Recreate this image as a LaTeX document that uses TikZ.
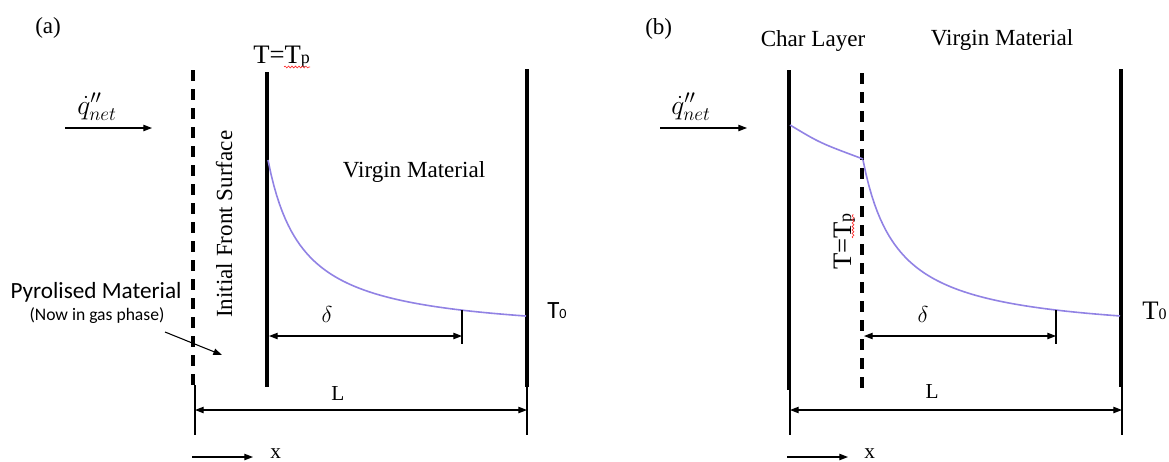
\documentclass[tikz,border=0pt]{standalone}
\usepackage{fontspec}
\setmainfont{Liberation Serif}
\newfontfamily\calib{Carlito}
\usetikzlibrary{arrows.meta,decorations.pathmorphing}
\definecolor{curvec}{RGB}{145,130,228}
\newcommand{\fs}[1]{\fontsize{#1}{#1}\selectfont}
\begin{document}
\begin{tikzpicture}[x=0.75pt,y=-0.75pt,
  >={Triangle[length=6.5pt,width=4.8pt]},
  wall/.style={line width=3.4pt},
  dashwall/.style={line width=3pt,dash pattern=on 8.25pt off 6pt},
  dimline/.style={line width=0.8pt},
  tcurve/.style={curvec,line width=1.2pt},
  lbl/.style={inner sep=0pt,font=\fs{17.3}},
  squig/.style={red!85,line width=0.45pt,decorate,decoration={snake,amplitude=0.7pt,segment length=2.6pt}}]
\useasboundingbox (0,0) rectangle (1169,461);

% ---------------- (a) ----------------
\node[lbl,anchor=base west] (labA) at (35,33) {(a)};
\coordinate (dA1) at (193,70); \coordinate (dA2) at (193,392);
\coordinate (pA1) at (267,72); \coordinate (pA2) at (267,387);
\coordinate (rA1) at (527,69); \coordinate (rA2) at (527,387);
\draw[dashwall] (dA1) -- (dA2);
\draw[wall] (pA1) -- (pA2);
\draw[wall] (rA1) -- (rA2);
\draw[tcurve] plot[domain=268:526,samples=90] (\x,{337-6141/(\x-233.3)});

\node[lbl,anchor=base west] (tpA) at (253,63) {\fs{20}T=T\fs{13.5}p};
\coordinate (sqA1) at (284,67); \coordinate (sqA2) at (310,67);
\draw[squig] (sqA1) -- (sqA2);

\node[lbl,anchor=base west,rotate=90] (ifs) at (232,318) {Initial Front Surface};
\node[lbl,anchor=base] (vmA) at (414,177) {Virgin Material};

\node[lbl,anchor=base west] (qA) at (77,114) {\fs{22}$\dot{q}''_{net}$};
\coordinate (qA1) at (65,128); \coordinate (qA2) at (152,128);
\draw[dimline,->] (qA1) -- (qA2);

\node[inner sep=0pt,anchor=base,font=\calib\fs{17.4}] (pyr) at (96,298) {Pyrolised Material};
\node[inner sep=0pt,anchor=base,font=\calib\fs{13.2}] (gas) at (97,320) {(Now in gas phase)};
\coordinate (pt1) at (165,332); \coordinate (pt2) at (222,355);
\draw[dimline,->] (pt1) -- (pt2);

\coordinate (dlA1) at (269,336); \coordinate (dlA2) at (462,336);
\coordinate (tkA1) at (462,310); \coordinate (tkA2) at (462,344);
\draw[dimline,<->] (dlA1) -- (dlA2);
\draw[dimline] (tkA1) -- (tkA2);
\node[lbl,anchor=base] (delA) at (327,322) {\fs{18}$\delta$};

\node[inner sep=0pt,anchor=base west] (t0A) at (547,318) {\calib\fs{18.6}T\fs{10.6}0};

\coordinate (eA1) at (195,385); \coordinate (eA2) at (195,435);
\coordinate (eA3) at (527,387); \coordinate (eA4) at (527,435);
\draw[dimline] (eA1) -- (eA2);
\draw[dimline] (eA3) -- (eA4);
\coordinate (LA1) at (195,410); \coordinate (LA2) at (527,410);
\draw[dimline,<->] (LA1) -- (LA2);
\node[lbl,anchor=base] (LlabA) at (338,400) {\fs{16}L};

\coordinate (xA1) at (192,457); \coordinate (xA2) at (253,457);
\draw[dimline,->] (xA1) -- (xA2);
\node[lbl,anchor=base west] (xlabA) at (270,458) {\fs{16}x};

% ---------------- (b) ----------------
\node[lbl,anchor=base west] (labB) at (645,34) {(b)};
\node[lbl,anchor=base] (char) at (813,46) {Char Layer};
\node[lbl,anchor=base] (vmB) at (1002,45) {Virgin Material};

\coordinate (lB1) at (789,70); \coordinate (lB2) at (789,390);
\coordinate (dB1) at (862,73); \coordinate (dB2) at (862,388);
\coordinate (rB1) at (1121,69); \coordinate (rB2) at (1121,387);
\draw[wall] (lB1) -- (lB2);
\draw[dashwall] (dB1) -- (dB2);
\draw[wall] (rB1) -- (rB2);

\coordinate (cB1) at (790,125); \coordinate (cBc) at (820,143); \coordinate (cB2) at (863,159);
\draw[tcurve] (cB1) .. controls (cBc) .. (cB2);
\draw[tcurve] plot[domain=863:1120,samples=90] (\x,{337-6141/(\x-828.3)});

\node[lbl,anchor=base west,rotate=90] (tpB) at (851,270) {\fs{20}T=T\fs{13.5}p};
\coordinate (sqB1) at (853,238); \coordinate (sqB2) at (853,214);
\draw[squig] (sqB1) -- (sqB2);

\node[lbl,anchor=base west] (qB) at (671,114) {\fs{22}$\dot{q}''_{net}$};
\coordinate (qB1) at (660,128); \coordinate (qB2) at (747,128);
\draw[dimline,->] (qB1) -- (qB2);

\coordinate (dlB1) at (864,336); \coordinate (dlB2) at (1056,336);
\coordinate (tkB1) at (1056,310); \coordinate (tkB2) at (1056,344);
\draw[dimline,<->] (dlB1) -- (dlB2);
\draw[dimline] (tkB1) -- (tkB2);
\node[lbl,anchor=base] (delB) at (923,322) {\fs{18}$\delta$};

\node[inner sep=0pt,anchor=base west] (t0B) at (1142,319) {\fs{20}T\fs{12}0};

\coordinate (eB1) at (790,390); \coordinate (eB2) at (790,435);
\coordinate (eB3) at (1122,387); \coordinate (eB4) at (1122,435);
\draw[dimline] (eB1) -- (eB2);
\draw[dimline] (eB3) -- (eB4);
\coordinate (LB1) at (790,410); \coordinate (LB2) at (1122,410);
\draw[dimline,<->] (LB1) -- (LB2);
\node[lbl,anchor=base] (LlabB) at (932,398) {\fs{16}L};

\coordinate (xB1) at (787,457); \coordinate (xB2) at (848,457);
\draw[dimline,->] (xB1) -- (xB2);
\node[lbl,anchor=base west] (xlabB) at (864,458) {\fs{16}x};
\end{tikzpicture}
\end{document}
